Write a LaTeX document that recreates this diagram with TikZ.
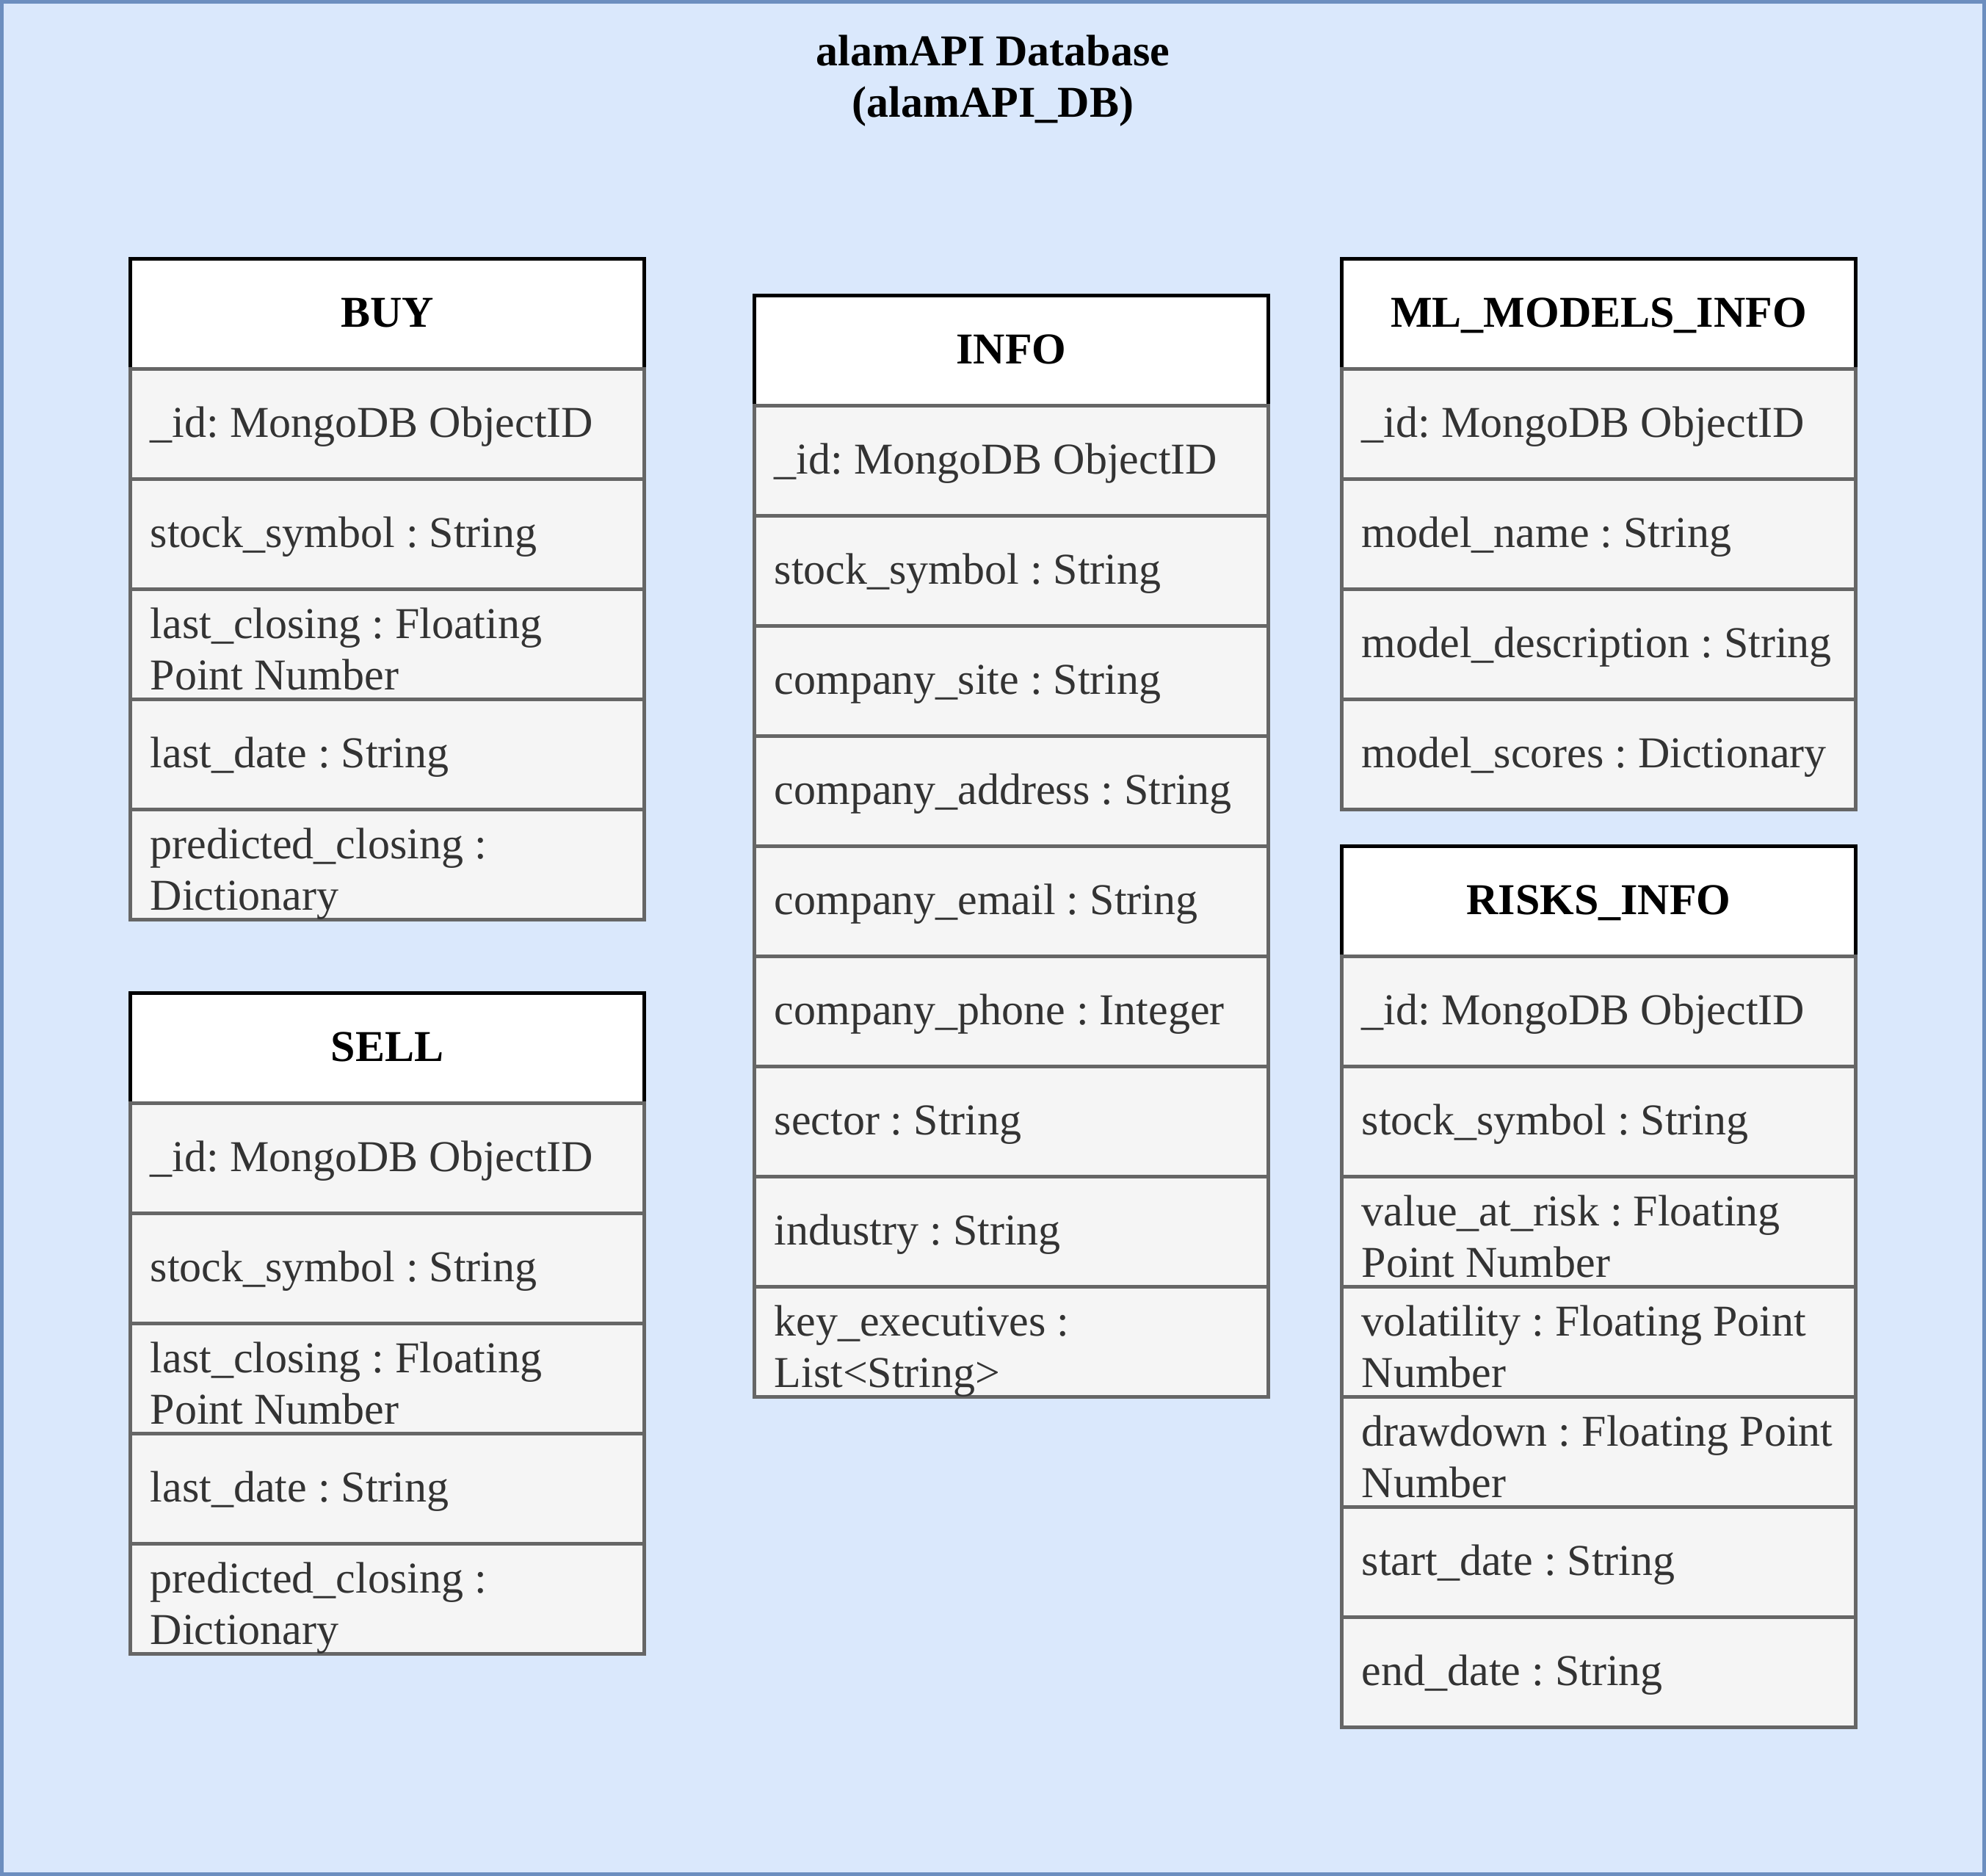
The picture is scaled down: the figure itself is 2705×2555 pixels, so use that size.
\documentclass[tikz,border=0pt]{standalone}
\usepackage{fontspec}
\setmainfont{Liberation Serif}
\frenchspacing
\definecolor{bgfill}{HTML}{DAE8FC}
\definecolor{bgline}{HTML}{6C8EBF}
\definecolor{cellfill}{HTML}{F5F5F5}
\definecolor{cellline}{HTML}{666666}
\definecolor{celltxt}{HTML}{333333}
\tikzset{
 frame/.style={draw=bgline, fill=bgfill, line width=5pt, minimum width=2700pt, minimum height=2550pt, inner sep=0pt, outer sep=0pt},
 hdr/.style={draw=black, fill=white, line width=5pt, minimum width=700pt, minimum height=150pt, inner sep=0pt, outer sep=0pt},
 cell/.style={draw=cellline, fill=cellfill, line width=5pt, minimum width=700pt, minimum height=150pt, inner sep=0pt, outer sep=0pt},
 hdrtext/.style={anchor=base, inner sep=0pt, font=\fontsize{60}{70}\selectfont\bfseries\frenchspacing},
 celltext/.style={anchor=base west, inner sep=0pt, text=celltxt, font=\fontsize{60}{70}\selectfont\frenchspacing},
 titletext/.style={anchor=base, inner sep=0pt, font=\fontsize{60}{70}\selectfont\bfseries\frenchspacing},
}
\newcommand\tblhead[4]{%
 \node[hdr] (#1) at ({#2+350},{#3+75}) {};
 \node[hdrtext] (#1-t) at ({#2+350},{#3+92.5}) {#4};}
\newcommand\tblrow[5]{%
 \node[cell] (#1) at ({#2+350},{#3+75+150*#4}) {};
 \node[celltext] (#1-t) at ({#2+27},{#3+92.5+150*#4}) {#5};}
\newcommand\tblrowtwo[6]{%
 \node[cell] (#1) at ({#2+350},{#3+75+150*#4}) {};
 \node[celltext] (#1-a) at ({#2+27},{#3+67+150*#4}) {#5};
 \node[celltext] (#1-b) at ({#2+27},{#3+137+150*#4}) {#6};}
\begin{document}
\begin{tikzpicture}[x=1pt,y=-1pt]
\useasboundingbox (0,0) rectangle (2705,2555);
\node[frame] (db) at (1352.5,1277.5) {};
\node[titletext] (title1) at (1352.5,90) {alamAPI Database};
\node[titletext] (title2) at (1352.5,160) {(alamAPI\_DB)};
% BUY
\tblhead{buy}{177.5}{352.5}{BUY}
\tblrow{buy1}{177.5}{352.5}{1}{\_id: MongoDB ObjectID}
\tblrow{buy2}{177.5}{352.5}{2}{stock\_symbol : String}
\tblrowtwo{buy3}{177.5}{352.5}{3}{last\_closing : Floating}{Point Number}
\tblrow{buy4}{177.5}{352.5}{4}{last\_date : String}
\tblrowtwo{buy5}{177.5}{352.5}{5}{predicted\_closing :}{Dictionary}
% SELL
\tblhead{sell}{177.5}{1352.5}{SELL}
\tblrow{sell1}{177.5}{1352.5}{1}{\_id: MongoDB ObjectID}
\tblrow{sell2}{177.5}{1352.5}{2}{stock\_symbol : String}
\tblrowtwo{sell3}{177.5}{1352.5}{3}{last\_closing : Floating}{Point Number}
\tblrow{sell4}{177.5}{1352.5}{4}{last\_date : String}
\tblrowtwo{sell5}{177.5}{1352.5}{5}{predicted\_closing :}{Dictionary}
% INFO
\tblhead{info}{1027.5}{402.5}{INFO}
\tblrow{info1}{1027.5}{402.5}{1}{\_id: MongoDB ObjectID}
\tblrow{info2}{1027.5}{402.5}{2}{stock\_symbol : String}
\tblrow{info3}{1027.5}{402.5}{3}{company\_site : String}
\tblrow{info4}{1027.5}{402.5}{4}{company\_address : String}
\tblrow{info5}{1027.5}{402.5}{5}{company\_email : String}
\tblrow{info6}{1027.5}{402.5}{6}{company\_phone : Integer}
\tblrow{info7}{1027.5}{402.5}{7}{sector : String}
\tblrow{info8}{1027.5}{402.5}{8}{industry : String}
\tblrowtwo{info9}{1027.5}{402.5}{9}{key\_executives :}{List<String>}
% ML_MODELS_INFO
\tblhead{ml}{1827.5}{352.5}{ML\_MODELS\_INFO}
\tblrow{ml1}{1827.5}{352.5}{1}{\_id: MongoDB ObjectID}
\tblrow{ml2}{1827.5}{352.5}{2}{model\_name : String}
\tblrow{ml3}{1827.5}{352.5}{3}{model\_description : String}
\tblrow{ml4}{1827.5}{352.5}{4}{model\_scores : Dictionary}
% RISKS_INFO
\tblhead{risk}{1827.5}{1152.5}{RISKS\_INFO}
\tblrow{risk1}{1827.5}{1152.5}{1}{\_id: MongoDB ObjectID}
\tblrow{risk2}{1827.5}{1152.5}{2}{stock\_symbol : String}
\tblrowtwo{risk3}{1827.5}{1152.5}{3}{value\_at\_risk : Floating}{Point Number}
\tblrowtwo{risk4}{1827.5}{1152.5}{4}{volatility : Floating Point}{Number}
\tblrowtwo{risk5}{1827.5}{1152.5}{5}{drawdown : Floating Point}{Number}
\tblrow{risk6}{1827.5}{1152.5}{6}{start\_date : String}
\tblrow{risk7}{1827.5}{1152.5}{7}{end\_date : String}
\end{tikzpicture}
\end{document}
